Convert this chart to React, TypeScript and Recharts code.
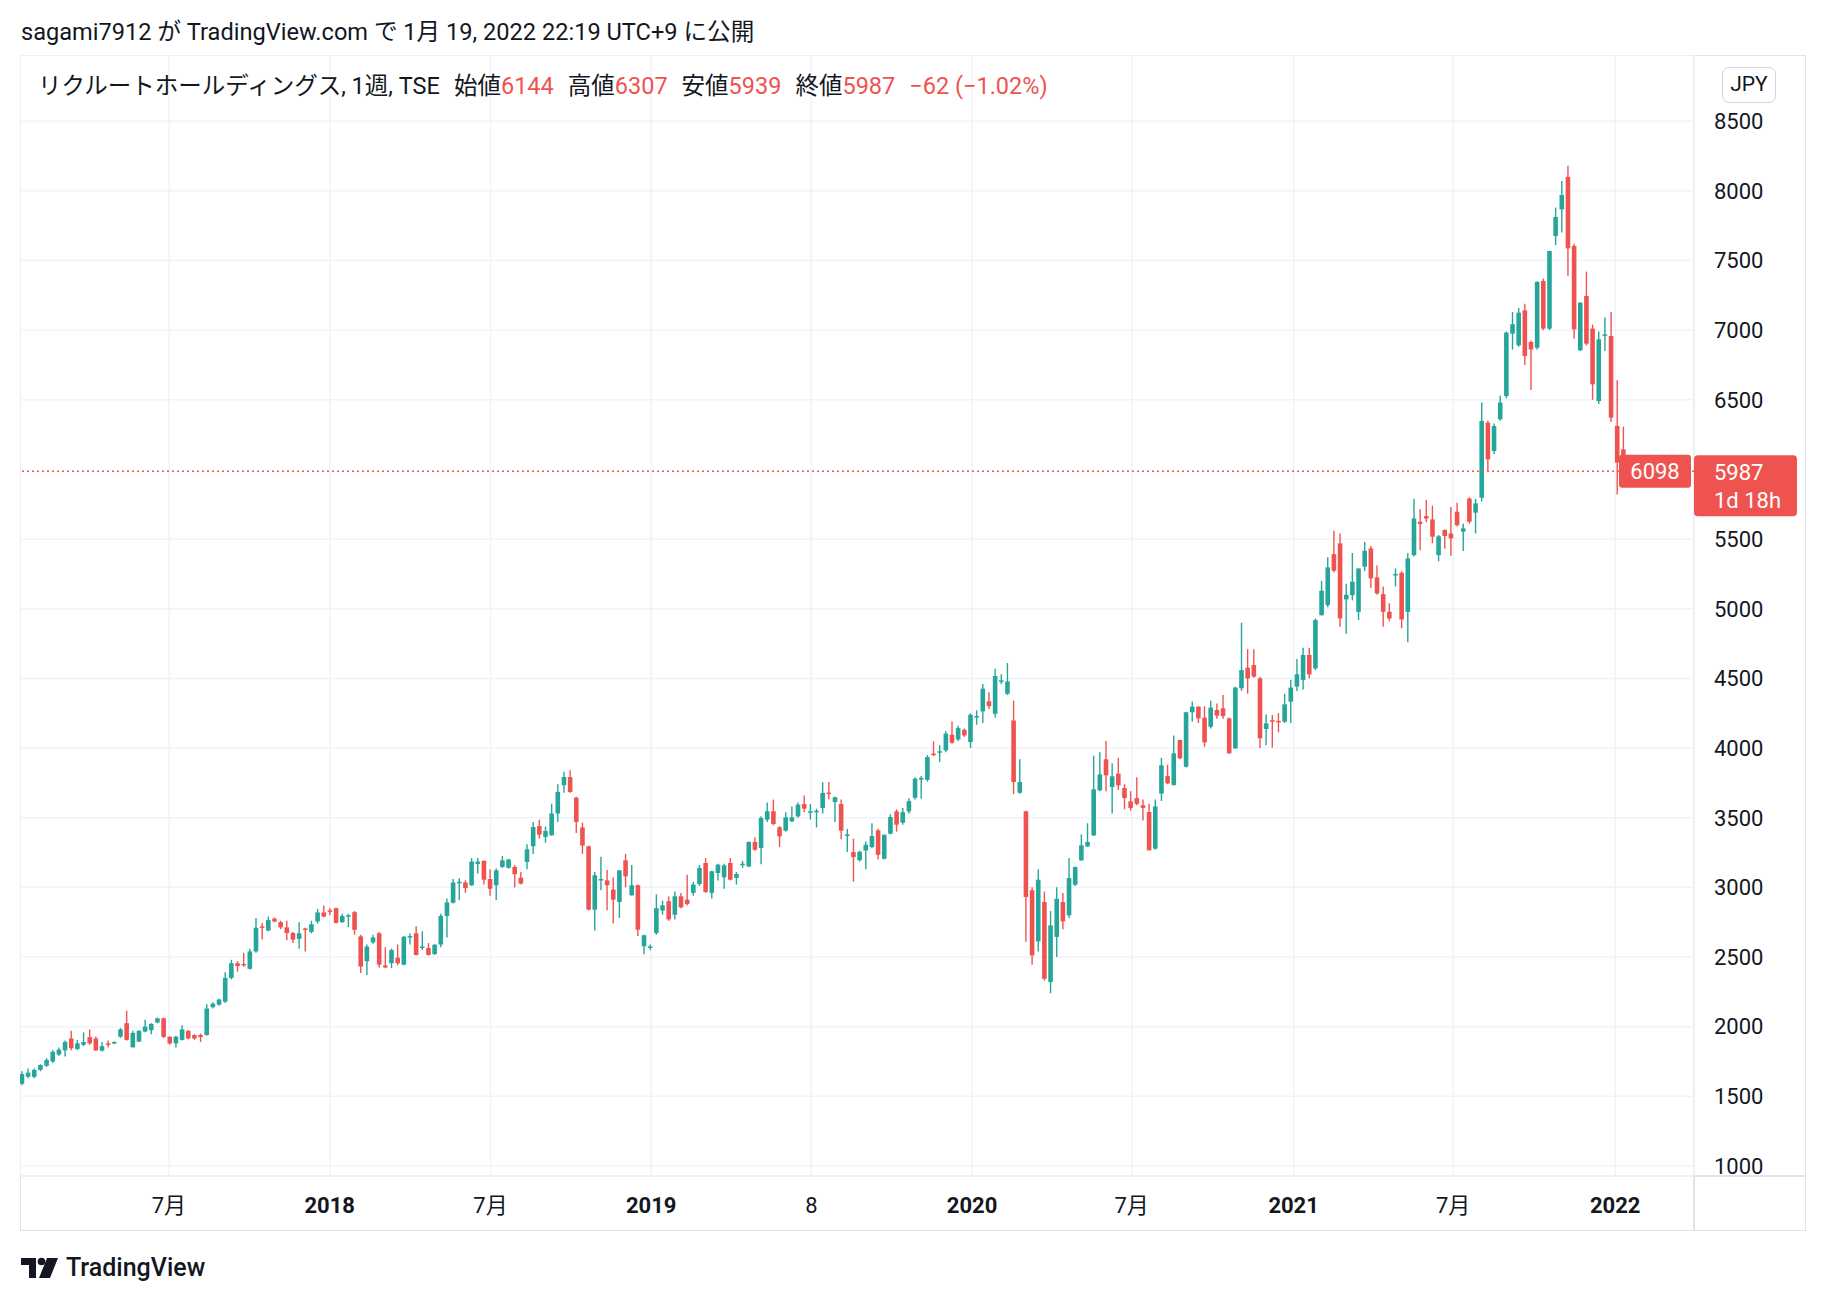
import { Bar, CartesianGrid, ComposedChart, ReferenceLine, XAxis, YAxis } from 'recharts'

// weekly candles, mid-Jan 2017 .. Jan 2022
const OPENS = [
  1590, 1640, 1640, 1690, 1720, 1750, 1800, 1830, 1915, 1840,
  1870, 1925, 1915, 1828, 1880, 1880, 1928, 2025, 1852, 1893,
  1965, 1975, 2030, 2060, 1928, 1880, 1905, 1970, 1940, 1940,
  1940, 2140, 2158, 2180, 2350, 2455, 2450, 2415, 2540, 2720,
  2690, 2775, 2750, 2713, 2672, 2630, 2705, 2680, 2755, 2820,
  2835, 2850, 2750, 2790, 2822, 2648, 2470, 2605, 2670, 2440,
  2455, 2495, 2445, 2640, 2670, 2570, 2565, 2521, 2590, 2795,
  2890, 3030, 3035, 3015, 3168, 3190, 3060, 3015, 3146, 3140,
  3146, 3070, 3182, 3295, 3440, 3362, 3374, 3530, 3733, 3792,
  3644, 3430, 3295, 2840, 3050, 3050, 2984, 2895, 3194, 2943,
  3015, 2577, 2570, 2672, 2833, 2900, 2804, 2936, 2912, 2960,
  3024, 3175, 2960, 3103, 3072, 3175, 3068, 3160, 3150, 3326,
  3283, 3486, 3546, 3431, 3407, 3474, 3510, 3598, 3540, 3540,
  3570, 3680, 3613, 3598, 3370, 3253, 3195, 3265, 3289, 3409,
  3205, 3385, 3545, 3464, 3545, 3643, 3775, 3772, 3960, 3970,
  3983, 4096, 4062, 4131, 4043, 4225, 4263, 4335, 4246, 4480,
  4390, 4198, 3679, 3546, 2979, 2612, 2895, 2320, 2644, 2895,
  2799, 3019, 3194, 3294, 3373, 3696, 3919, 3720, 3816, 3713,
  3617, 3641, 3589, 3541, 3278, 3673, 3799, 3735, 4058, 3866,
  4257, 4297, 4218, 4153, 4273, 4285, 4213, 3998, 4429, 4577,
  4596, 4500, 4137, 4200, 4195, 4189, 4333, 4441, 4489, 4668,
  4572, 4954, 5026, 5392, 5469, 5067, 5098, 4978, 5302, 5433,
  5225, 5105, 4978, 5245, 5258, 4978, 5385, 5625, 5665, 5641,
  5385, 5565, 5540, 5696, 5553, 5790, 5690, 5797, 6336, 6132,
  6360, 6527, 6975, 6891, 7142, 6915, 6874, 7353, 7011, 7676,
  7867, 8100, 7604, 6855, 7245, 7011, 6491, 6960, 6958, 6312,
  6144,
]
const HIGHS = [
  1680, 1700, 1700, 1730, 1775, 1830, 1850, 1900, 1971, 1904,
  1960, 1980, 1930, 1890, 1900, 1895, 1990, 2115, 1970, 1975,
  2050, 2025, 2065, 2065, 1930, 1935, 2010, 1975, 1945, 1950,
  2160, 2175, 2200, 2390, 2480, 2470, 2530, 2560, 2780, 2745,
  2790, 2785, 2760, 2760, 2680, 2750, 2710, 2760, 2845, 2870,
  2850, 2855, 2810, 2810, 2830, 2660, 2590, 2660, 2680, 2570,
  2560, 2590, 2650, 2670, 2720, 2685, 2600, 2595, 2810, 2920,
  3060, 3065, 3050, 3210, 3210, 3195, 3130, 3135, 3225, 3205,
  3160, 3110, 3310, 3470, 3486, 3436, 3600, 3740, 3830, 3840,
  3650, 3465, 3300, 3110, 3220, 3125, 3070, 3125, 3240, 3160,
  3020, 2660, 2590, 2950, 2905, 2935, 2970, 2960, 3090, 3040,
  3160, 3210, 3120, 3170, 3170, 3210, 3110, 3190, 3330, 3360,
  3510, 3610, 3630, 3440, 3540, 3580, 3610, 3660, 3598, 3565,
  3755, 3757, 3650, 3630, 3420, 3349, 3265, 3330, 3460, 3420,
  3380, 3525, 3560, 3570, 3640, 3790, 3800, 3950, 4048, 4020,
  4120, 4190, 4160, 4140, 4250, 4270, 4460, 4400, 4570, 4530,
  4610, 4340, 3920, 3550, 3000, 3130, 2970, 2830, 3000, 2960,
  3210, 3150, 3380, 3460, 3945, 3970, 4050, 3890, 3930, 3740,
  3690, 3790, 3630, 3600, 3630, 3930, 3880, 4090, 4060, 4260,
  4335, 4300, 4300, 4340, 4320, 4380, 4220, 4440, 4900, 4710,
  4710, 4510, 4240, 4237, 4250, 4390, 4490, 4640, 4720, 4720,
  4930, 5200, 5370, 5560, 5540, 5180, 5400, 5290, 5480, 5450,
  5310, 5160, 5040, 5290, 5270, 5400, 5790, 5715, 5780, 5740,
  5530, 5570, 5730, 5760, 5610, 5800, 5790, 6480, 6350, 6330,
  6530, 6990, 7130, 7160, 7190, 6925, 7350, 7370, 7570, 7880,
  8070, 8180, 7620, 7200, 7420, 7040, 6990, 7090, 7130, 6640,
  6307,
]
const LOWS = [
  1580, 1630, 1630, 1680, 1710, 1740, 1790, 1785, 1830, 1830,
  1860, 1870, 1825, 1822, 1850, 1875, 1920, 1900, 1850, 1890,
  1960, 1945, 2025, 1920, 1870, 1850, 1900, 1910, 1905, 1890,
  1935, 2130, 2150, 2170, 2340, 2395, 2430, 2410, 2530, 2625,
  2685, 2750, 2700, 2620, 2600, 2560, 2540, 2670, 2740, 2785,
  2800, 2740, 2745, 2715, 2660, 2385, 2370, 2595, 2425, 2420,
  2420, 2440, 2440, 2590, 2510, 2550, 2510, 2515, 2570, 2640,
  2885, 2910, 2960, 3010, 3100, 3020, 2940, 2910, 3140, 3135,
  3000, 3020, 3130, 3240, 3350, 3320, 3370, 3470, 3680, 3680,
  3390, 3240, 2835, 2690, 2980, 2835, 2740, 2780, 3000, 2940,
  2650, 2520, 2548, 2660, 2805, 2760, 2770, 2850, 2870, 2940,
  3010, 2960, 2920, 3050, 2990, 3050, 3020, 3140, 3145, 3262,
  3165, 3470, 3445, 3290, 3400, 3470, 3500, 3540, 3487, 3430,
  3530, 3630, 3470, 3345, 3253, 3040, 3185, 3130, 3280, 3200,
  3200, 3380, 3400, 3450, 3530, 3630, 3636, 3760, 3942, 3900,
  3970, 4030, 4050, 4080, 4000, 4167, 4180, 4280, 4220, 4460,
  4380, 3670, 3672, 2610, 2445, 2540, 2330, 2240, 2500, 2700,
  2780, 3010, 3190, 3290, 3370, 3690, 3690, 3530, 3700, 3560,
  3550, 3590, 3480, 3265, 3270, 3620, 3740, 3730, 3920, 3860,
  4190, 4180, 4010, 4140, 4210, 4210, 3960, 3995, 4410, 4390,
  4505, 4000, 4020, 4003, 4113, 4180, 4180, 4410, 4420, 4500,
  4560, 4950, 5010, 5260, 4870, 4820, 5060, 4920, 5270, 5150,
  5100, 4870, 4910, 5160, 4860, 4760, 5375, 5420, 5620, 5470,
  5340, 5430, 5380, 5590, 5415, 5610, 5540, 5770, 5990, 6110,
  6350, 6510, 6860, 6880, 6750, 6570, 6860, 7000, 7000, 7610,
  7700, 7390, 6940, 6850, 6890, 6500, 6470, 6850, 6340, 5820,
  5939,
]
const CLOSES = [
  1660, 1670, 1690, 1725, 1760, 1820, 1835, 1890, 1845, 1880,
  1890, 1880, 1830, 1860, 1875, 1890, 1980, 1905, 1955, 1970,
  2000, 2020, 2060, 1925, 1880, 1928, 1980, 1915, 1915, 1925,
  2130, 2165, 2195, 2350, 2455, 2435, 2440, 2540, 2710, 2710,
  2765, 2755, 2713, 2672, 2625, 2670, 2700, 2735, 2820, 2790,
  2830, 2745, 2795, 2800, 2695, 2432, 2575, 2640, 2445, 2425,
  2550, 2455, 2645, 2650, 2515, 2575, 2515, 2588, 2795, 2892,
  3035, 3040, 2995, 3185, 3185, 3055, 2990, 3122, 3194, 3200,
  3094, 3027, 3273, 3433, 3378, 3405, 3530, 3685, 3792, 3685,
  3470, 3300, 2840, 3087, 3060, 3015, 2912, 3122, 3079, 3015,
  2696, 2656, 2576, 2850, 2871, 2770, 2936, 2857, 2881, 3020,
  3139, 2967, 3115, 3163, 3158, 3055, 3096, 3170, 3326, 3270,
  3498, 3546, 3455, 3366, 3503, 3503, 3594, 3565, 3547, 3550,
  3678, 3675, 3647, 3407, 3380, 3217, 3255, 3306, 3368, 3234,
  3378, 3505, 3450, 3540, 3619, 3780, 3785, 3935, 3955, 3977,
  4103, 4038, 4143, 4091, 4239, 4230, 4426, 4301, 4517, 4486,
  4478, 3756, 3756, 2931, 2512, 3055, 2344, 2727, 2918, 2756,
  3067, 3146, 3302, 3326, 3704, 3811, 3804, 3797, 3732, 3641,
  3570, 3600, 3570, 3266, 3581, 3876, 3747, 3962, 3926, 4257,
  4297, 4213, 4041, 4290, 4233, 4230, 3962, 4434, 4560, 4500,
  4513, 4070, 4177, 4190, 4185, 4314, 4434, 4529, 4668, 4529,
  4919, 5129, 5297, 5273, 4930, 5100, 5194, 5289, 5416, 5218,
  5110, 4978, 4930, 5250, 4923, 5361, 5648, 5608, 5648, 5517,
  5520, 5522, 5505, 5600, 5577, 5625, 5756, 6348, 6072, 6312,
  6480, 6982, 7042, 7125, 6814, 6862, 7346, 7011, 7568, 7812,
  7970, 7587, 7006, 7197, 6903, 6611, 6934, 6970, 6372, 6049,
  5987,
]

// time axis: positions in week index, labels as shown
const TIME_TICKS = [23.9, 50, 76.1, 102.2, 128.2, 154.3, 180.2, 206.5, 232.4, 258.7]
const TIME_LABELS = ['7月', '2018', '7月', '2019', '8', '2020', '7月', '2021', '7月', '2022']
const PRICE_TICKS = [1000, 1500, 2000, 2500, 3000, 3500, 4000, 4500, 5000, 5500, 6000, 6500, 7000, 7500, 8000, 8500]
const AXIS_PRICE_TICKS = PRICE_TICKS.filter((p) => p !== 6000)

const UP = '#26a69a'
const DOWN = '#ef5350'
const TEXT = '#131722'
const GRID = '#f0f3fa'
const BORDER = '#e0e3eb'
const FONT = 'Roboto, "Noto Sans CJK JP", sans-serif'

const candles = OPENS.map((open, i) => ({
  i,
  open,
  high: HIGHS[i],
  low: LOWS[i],
  close: CLOSES[i],
  range: [LOWS[i], HIGHS[i]],
}))

const last = candles[candles.length - 1]
const prevClose = CLOSES[CLOSES.length - 2]
const change = last.close - prevClose
const changePct = ((change / prevClose) * 100).toFixed(2)
const fmtSigned = (v: string | number) => (String(v).startsWith('-') ? '−' + String(v).slice(1) : '+' + v)

function Candle(props: any) {
  const { x, y, width, height, payload } = props
  if (!payload) return null
  const { open, close, high, low } = payload
  const color = close >= open ? UP : DOWN
  const ratio = high === low ? 0 : height / (high - low)
  const yOpen = y + (high - open) * ratio
  const yClose = y + (high - close) * ratio
  const top = Math.min(yOpen, yClose)
  const bodyH = Math.max(Math.abs(yOpen - yClose), 1.5)
  const cx = x + width / 2
  return (
    <g>
      <line x1={cx} x2={cx} y1={y} y2={y + height} stroke={color} strokeWidth={1.4} />
      <rect x={x} y={top} width={width} height={bodyH} fill={color} />
    </g>
  )
}

function TimeTick({ x, y, payload }: any) {
  const idx = TIME_TICKS.indexOf(payload.value)
  const label = TIME_LABELS[idx] ?? ''
  const isYear = /^\d{4}$/.test(label)
  return (
    <text
      x={x}
      y={y + 29}
      textAnchor="middle"
      dominantBaseline="central"
      fill={TEXT}
      fontSize={22}
      fontWeight={isYear ? 700 : 400}
      fontFamily={FONT}
    >
      {label}
    </text>
  )
}

function PriceTag({ viewBox }: any) {
  if (!viewBox) return null
  const right = viewBox.x + viewBox.width
  const y = viewBox.y
  return (
    <g fontFamily={FONT}>
      <rect x={right - 75} y={y - 16.5} width={72} height={33} rx={3} fill={DOWN} />
      <text x={right - 39} y={y} textAnchor="middle" dominantBaseline="central" fill="#fff" fontSize={22}>
        6098
      </text>
      <rect x={right} y={y - 16} width={103} height={61} rx={4} fill={DOWN} />
      <text x={right + 20} y={y + 1} dominantBaseline="central" fill="#fff" fontSize={22}>
        {last.close}
      </text>
      <text x={right + 20} y={y + 29} dominantBaseline="central" fill="#fff" fontSize={22}>
        1d 18h
      </text>
    </g>
  )
}

function Logo() {
  return (
    <svg width={37} height={22} viewBox="0 0 37 22">
      <path d="M0 1 H15 V21 H8 V8 H0 Z" fill={TEXT} />
      <circle cx={20.5} cy={4.5} r={3.8} fill={TEXT} />
      <path d="M26 1 H37 L29 21 H18 Z" fill={TEXT} />
    </svg>
  )
}

export default function App() {
  return (
    <div
      style={{
        position: 'absolute',
        left: 0,
        top: 0,
        width: 1826,
        height: 1302,
        background: '#fff',
        fontFamily: FONT,
        color: TEXT,
      }}
    >
      <div style={{ position: 'absolute', left: 21, top: 19, fontSize: 23.6, lineHeight: '27px', whiteSpace: 'nowrap' }}>
        sagami7912 が TradingView.com で 1月 19, 2022 22:19 UTC+9 に公開
      </div>

      <div
        style={{
          position: 'absolute',
          left: 20,
          top: 55,
          width: 1786,
          height: 1176,
          boxSizing: 'border-box',
          border: `1px solid ${BORDER}`,
        }}
      />
      <div style={{ position: 'absolute', left: 20, top: 1175, width: 1786, height: 2, background: BORDER }} />
      <div style={{ position: 'absolute', left: 1693, top: 55, width: 2, height: 1176, background: BORDER }} />

      <div style={{ position: 'absolute', left: 20, top: 55 }}>
        <ComposedChart width={1786} height={1176} data={candles} margin={{ top: 0, right: 0, bottom: 0, left: 0 }}>
          <CartesianGrid stroke={GRID} strokeWidth={1.5} />
          <XAxis
            dataKey="i"
            type="number"
            domain={[-0.28, 271.5]}
            ticks={TIME_TICKS}
            allowDataOverflow
            interval={0}
            axisLine={false}
            tickLine={false}
            tickSize={0}
            tickMargin={0}
            height={55}
            tick={<TimeTick />}
          />
          <YAxis
            orientation="right"
            width={112}
            domain={[928, 8975]}
            ticks={AXIS_PRICE_TICKS}
            allowDataOverflow
            interval={0}
            axisLine={false}
            tickLine={false}
            tickSize={0}
            tickMargin={20}
            tick={{ fill: TEXT, fontSize: 22, fontFamily: FONT }}
          />
          <Bar dataKey="range" barSize={4.6} isAnimationActive={false} shape={(p: any) => <Candle {...p} />} />
          <ReferenceLine
            y={last.close}
            stroke={DOWN}
            strokeWidth={1.5}
            strokeDasharray="2 3"
            label={<PriceTag />}
          />
        </ComposedChart>
      </div>

      <div
        style={{
          position: 'absolute',
          left: 38,
          top: 73,
          fontSize: 23.5,
          lineHeight: '27px',
          whiteSpace: 'nowrap',
          display: 'flex',
          gap: 14,
        }}
      >
        <span>リクルートホールディングス, 1週, TSE</span>
        <span>
          始値<span style={{ color: DOWN }}>{last.open}</span>
        </span>
        <span>
          高値<span style={{ color: DOWN }}>{last.high}</span>
        </span>
        <span>
          安値<span style={{ color: DOWN }}>{last.low}</span>
        </span>
        <span>
          終値<span style={{ color: DOWN }}>{last.close}</span>
        </span>
        <span style={{ color: DOWN }}>
          {fmtSigned(change)} ({fmtSigned(changePct)}%)
        </span>
      </div>

      <div
        style={{
          position: 'absolute',
          left: 1722,
          top: 67,
          width: 54,
          height: 36,
          boxSizing: 'border-box',
          border: '1.5px solid #d1d4dc',
          borderRadius: 7,
          fontSize: 21,
          lineHeight: '33px',
          textAlign: 'center',
        }}
      >
        JPY
      </div>

      <div style={{ position: 'absolute', left: 21, top: 1256, display: 'flex', alignItems: 'center', gap: 8 }}>
        <Logo />
        <span style={{ fontSize: 25, fontWeight: 500, lineHeight: '24px' }}>TradingView</span>
      </div>
    </div>
  )
}
